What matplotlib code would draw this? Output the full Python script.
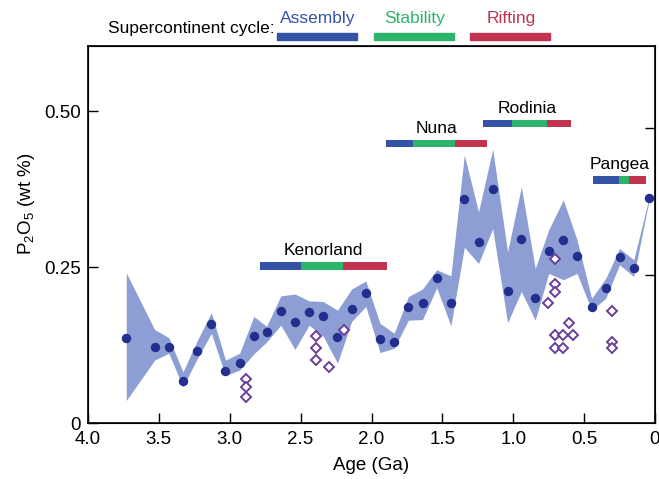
#!/usr/bin/env python3
"""P2O5 through time with supercontinent cycles."""

import matplotlib

matplotlib.use("Agg")
import matplotlib.pyplot as plt

plt.rcParams["font.family"] = ["Liberation Sans", "DejaVu Sans"]
plt.rcParams["mathtext.default"] = "regular"

# binned means (Ga, wt %)
age = [3.73, 3.53, 3.43, 3.33, 3.23, 3.13, 3.03, 2.93, 2.83, 2.74, 2.64, 2.54,
       2.44, 2.34, 2.24, 2.14, 2.04, 1.94, 1.84, 1.74, 1.64, 1.54, 1.44, 1.345,
       1.245, 1.145, 1.04, 0.943, 0.845, 0.75, 0.647, 0.55, 0.447, 0.348,
       0.25, 0.15, 0.042]
p2o5 = [0.136, 0.122, 0.122, 0.067, 0.116, 0.159, 0.083, 0.097, 0.140, 0.146,
        0.180, 0.162, 0.178, 0.171, 0.138, 0.183, 0.209, 0.134, 0.130, 0.186,
        0.193, 0.233, 0.193, 0.360, 0.291, 0.376, 0.212, 0.296, 0.201, 0.276,
        0.293, 0.268, 0.186, 0.217, 0.266, 0.249, 0.361]
band_hi = [0.241, 0.150, 0.137, 0.082, 0.132, 0.177, 0.101, 0.112, 0.171, 0.155,
           0.204, 0.207, 0.196, 0.195, 0.181, 0.215, 0.228, 0.160, 0.144, 0.203,
           0.215, 0.246, 0.236, 0.430, 0.339, 0.439, 0.275, 0.379, 0.248, 0.310,
           0.358, 0.294, 0.200, 0.232, 0.280, 0.262, 0.361]
band_lo = [0.036, 0.101, 0.112, 0.058, 0.103, 0.144, 0.076, 0.085, 0.111, 0.130,
           0.157, 0.118, 0.157, 0.139, 0.096, 0.163, 0.187, 0.113, 0.120, 0.165,
           0.166, 0.217, 0.156, 0.282, 0.256, 0.312, 0.161, 0.211, 0.165, 0.240,
           0.230, 0.240, 0.181, 0.200, 0.254, 0.235, 0.357]

# individual samples (open diamonds)
sample_age = [2.885, 2.885, 2.885, 2.392, 2.392, 2.392, 2.298, 2.194,
              0.757, 0.705, 0.705, 0.705, 0.705, 0.705, 0.647, 0.647,
              0.610, 0.578, 0.305, 0.305, 0.305]
sample_p2o5 = [0.071, 0.058, 0.041, 0.140, 0.120, 0.101, 0.090, 0.150,
               0.192, 0.263, 0.223, 0.211, 0.141, 0.120, 0.141, 0.120,
               0.161, 0.141, 0.180, 0.130, 0.120]

# supercontinent cycles: name, phase boundaries (Ga), bar level
cycle_names = ["Kenorland", "Nuna", "Rodinia", "Pangea"]
cycle_bounds = [[2.79, 2.50, 2.20, 1.89],
                [1.90, 1.705, 1.41, 1.187],
                [1.21, 1.009, 0.76, 0.59],
                [0.44, 0.256, 0.186, 0.063]]
cycle_level = [0.252, 0.449, 0.480, 0.390]
phase_names = ["Assembly", "Stability", "Rifting"]
phase_colors = ["#3553a6", "#2db46b", "#c0344f"]

BAND = "#8c9ed3"
DOT = "#232f8f"
DIAMOND = "#6a3d9a"

W, H = 659, 479
fig = plt.figure(figsize=(W / 100, H / 100), dpi=100)
ax = fig.add_axes([88 / W, 1 - 423 / H, 567 / W, 377 / H])

ax.fill_between(age, band_lo, band_hi, color=BAND, linewidth=0)
ax.plot(age, p2o5, "o", color=DOT, markersize=6.8, markeredgewidth=0)
ax.plot(sample_age, sample_p2o5, "D", markerfacecolor="white",
        markeredgecolor=DIAMOND, markeredgewidth=1.4, markersize=5.2)

bar_h = 0.0115
for name, bounds, level in zip(cycle_names, cycle_bounds, cycle_level):
    for i, col in enumerate(phase_colors):
        ax.broken_barh([(bounds[i + 1], bounds[i] - bounds[i + 1])],
                       (level - bar_h / 2, bar_h), facecolors=col)
    ax.text((bounds[0] + bounds[-1]) / 2, level + 0.012, name,
            ha="center", va="bottom", fontsize=12.5)

ax.set_xlim(4.0, 0)
ax.set_ylim(0, 0.605)
ax.set_xticks([4.0, 3.5, 3.0, 2.5, 2.0, 1.5, 1.0, 0.5, 0])
ax.set_xticklabels(["4.0", "3.5", "3.0", "2.5", "2.0", "1.5", "1.0", "0.5", "0"])
ax.set_yticks([0, 0.25, 0.5])
ax.set_yticklabels(["0", "0.25", "0.50"])
ax.tick_params(direction="in", length=7, width=1, labelsize=13.5)
ax.tick_params(axis="x", pad=6)
ax.tick_params(axis="y", pad=5)
for s in ax.spines.values():
    s.set_linewidth(1.2)

# right-hand ticks belong to a cropped secondary scale
ax2 = ax.twinx()
ax2.set_ylim(ax.get_ylim())
ax2.set_yticks([0.2375, 0.4735])
ax2.set_yticklabels([])
ax2.tick_params(direction="in", length=7, width=1)

ax.set_xlabel("Age (Ga)", fontsize=13.5, labelpad=6)
ax.set_ylabel(r"P$_2$O$_5$ (wt %)", fontsize=13.5)
ax.yaxis.set_label_coords(-0.09, 0.58)

# cycle key above the frame
fig.text(108 / W, 1 - 28 / H, "Supercontinent cycle:", fontsize=12.5,
         ha="left", va="center")
key_left = [277, 374, 470]
for name, col, x0 in zip(phase_names, phase_colors, key_left):
    fig.patches.append(plt.Rectangle((x0 / W, 1 - 39.5 / H), 80 / W, 7 / H,
                                     transform=fig.transFigure, color=col))
    fig.text((x0 + 41) / W, 1 - 19 / H, name, color=col, fontsize=12.5,
             ha="center", va="center")

fig.savefig("out.png", dpi=100)
